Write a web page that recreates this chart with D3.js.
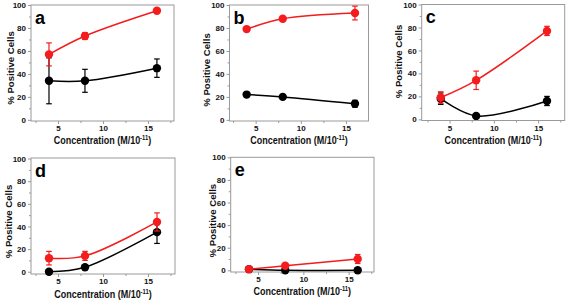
<!DOCTYPE html>
<html><head><meta charset="utf-8">
<script src="https://cdn.jsdelivr.net/npm/d3@7"></script>
<style>body{margin:0;background:#fff}svg{display:block}text{font-family:Arial,"Liberation Sans",sans-serif;font-weight:bold}</style>
</head><body><svg id="c" width="567" height="301"></svg>
<script>
const concentrations = [4, 8, 16];
const panelLetters = ["a", "b", "c", "d", "e"];
const redValues = [[57, 73, 95], [79, 88, 93], [19, 34, 77], [12, 14, 44], [1, 4, 10]];
const redErrors = [[10, 3, 1.5], [2, 1.5, 6], [5, 8, 4], [6, 4, 8], [1, 1, 4]];
const blackValues = [[34, 34, 45], [22, 20, 14], [18, 3, 16], [0, 4, 35], [1, 0, 0]];
const blackErrors = [[20, 10, 8], [1.5, 1.5, 3], [5, 1, 4], [1, 1, 10], [0, 0, 0]];
const xTicks = [5, 10, 15];
const xMinorTicks = [2.5, 7.5, 12.5, 17.5];
const yTicks = [0, 20, 40, 60, 80, 100];
const yMinorTicks = [10, 30, 50, 70, 90];
const xLabel = "Concentration (M/10";
const xLabelSup = "-11";
const yLabel = "% Positive Cells";

const layout = [
  {l: 31, t: 5, w: 143, h: 116, x0: 2.0, x1: 17.9, y0: -1, y1: 100, yl: -21, yc: 5, xb: 23},
  {l: 229.5, t: 5, w: 139, h: 116, x0: 2.1, x1: 17.5, y0: -1, y1: 100, yl: -24, yc: 7, xb: 23},
  {l: 421.7, t: 4.5, w: 143, h: 116, x0: 1.85, x1: 18.0, y0: -1, y1: 100, yl: -23.5, yc: -1, xb: 23},
  {l: 31, t: 158, w: 144, h: 116, x0: 2.0, x1: 18.0, y0: -2, y1: 100.5, yl: -23, yc: 5.5, xb: 24},
  {l: 230.7, t: 157.3, w: 143.3, h: 114.7, x0: 1.98, x1: 17.8, y0: -1.5, y1: 100, yl: -18.5, yc: 6, xb: 23}
];

const svg = d3.select("#c");
const frameColor = "#9a9a9a";
const redColor = "#f41c1c";

layout.forEach((L, i) => {
  const g = svg.append("g").attr("transform", `translate(${L.l},${L.t})`);
  const x = d3.scaleLinear().domain([L.x0, L.x1]).range([0, L.w]);
  const y = d3.scaleLinear().domain([L.y0, L.y1]).range([L.h, 0]);
  g.append("rect").attr("width", L.w).attr("height", L.h).attr("fill", "none").attr("stroke", frameColor).attr("stroke-width", 1);
  const xa = g.append("g").attr("transform", `translate(0,${L.h})`)
    .call(d3.axisBottom(x).tickValues(xTicks).tickSize(3).tickPadding(1.5).tickFormat(d3.format("d")));
  const xm = g.append("g").attr("transform", `translate(0,${L.h})`)
    .call(d3.axisBottom(x).tickValues(xMinorTicks.filter(v => v > L.x0 && v < L.x1)).tickSize(2).tickFormat(""));
  const ya = g.append("g").call(d3.axisLeft(y).tickValues(yTicks).tickSize(3).tickPadding(2));
  const ym = g.append("g").call(d3.axisLeft(y).tickValues(yMinorTicks).tickSize(2).tickFormat(""));
  [xa, xm, ya, ym].forEach(a => {
    a.select(".domain").remove();
    a.selectAll("line").attr("stroke", frameColor);
    a.selectAll("text").attr("fill", "#111").style("font-size", "8px").style("font-weight", "bold").attr("font-family", "Arial, 'Liberation Sans', sans-serif");
  });
  const xl = g.append("text").attr("transform", `translate(${L.w / 2},${L.h + L.xb}) scale(0.9,1)`).attr("text-anchor", "middle").style("font-size", "10px").attr("fill", "#111");
  xl.append("tspan").text(xLabel);
  xl.append("tspan").text(xLabelSup).attr("dy", -4).style("font-size", "6.5px");
  xl.append("tspan").text(")").attr("dy", 4);
  g.append("text").attr("transform", `translate(${L.yl + 4},${L.h / 2 + L.yc}) rotate(-90)`).attr("text-anchor", "middle").style("font-size", "9.6px").attr("fill", "#111").text(yLabel);
  g.append("text").attr("x", 4).attr("y", 18.5).style("font-size", "18px").attr("fill", "#000").text(panelLetters[i]);

  const line = d3.line().x(d => x(d[0])).y(d => y(d[1])).curve(d3.curveCatmullRom);
  const series = [
    {vals: blackValues[i], errs: blackErrors[i], c: "#000"},
    {vals: redValues[i], errs: redErrors[i], c: redColor}
  ];
  series.forEach(s => {
    const pts = concentrations.map((c, k) => [c, s.vals[k], s.errs[k]]);
    g.append("path").attr("d", line(pts)).attr("fill", "none").attr("stroke", s.c).attr("stroke-width", 1.5);
    pts.forEach(p => {
      if (p[2] > 0) {
        g.append("line").attr("x1", x(p[0])).attr("x2", x(p[0])).attr("y1", y(p[1] - p[2])).attr("y2", y(p[1] + p[2])).attr("stroke", s.c).attr("stroke-width", 1.2);
        [p[1] - p[2], p[1] + p[2]].forEach(v => g.append("line").attr("x1", x(p[0]) - 2.8).attr("x2", x(p[0]) + 2.8).attr("y1", y(v)).attr("y2", y(v)).attr("stroke", s.c).attr("stroke-width", 1.2));
      }
      g.append("circle").attr("cx", x(p[0])).attr("cy", y(p[1])).attr("r", 4.2).attr("fill", s.c);
    });
  });
});
</script></body></html>
